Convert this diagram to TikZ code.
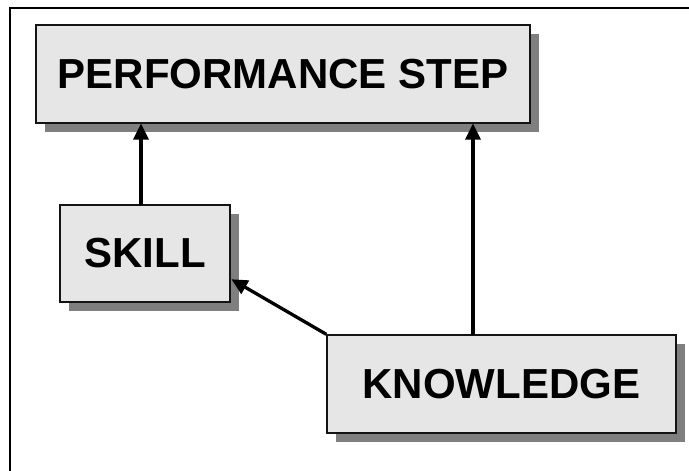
\documentclass[tikz,border=0pt]{standalone}
\usepackage{fontspec}
\setmainfont{Liberation Sans}
\usetikzlibrary{arrows.meta,shadows}
\definecolor{boxfill}{HTML}{E6E6E6}
\definecolor{shadowgray}{HTML}{7F7F7F}
\definecolor{edge}{HTML}{141414}
\tikzset{
  box/.style={draw=edge, line width=1.4pt, fill=boxfill, inner sep=0pt,
    font=\fontsize{42}{48}\selectfont\bfseries,
    drop shadow={shadow xshift=8.5pt, shadow yshift=-8.5pt, fill=shadowgray, opacity=1}},
  link/.style={line width=3.3pt, -{Triangle[length=16pt,width=15pt]}, shorten >=0.5pt},
  frame/.style={line width=2.8pt, black}
}
\begin{document}
\begin{tikzpicture}[x=1pt,y=-1pt]
  \useasboundingbox (0,0) rectangle (689,471);
  \fill[white] (0,0) rectangle (689,471);
  % open frame: left and top edges only
  \coordinate (fb) at (10,471);
  \coordinate (fc) at (10,8);
  \coordinate (fr) at (689,8);
  \draw[frame] (fb) -- (fc) -- (fr);
  % boxes
  \node[box, minimum width=494pt, minimum height=98pt] (perf) at (283,74) {PERFORMANCE STEP};
  \node[box, minimum width=170pt, minimum height=97pt] (skill) at (145,253.5) {SKILL};
  \node[box, minimum width=349pt, minimum height=98pt] (know) at (501.5,384) {KNOWLEDGE};
  % connectors
  \coordinate (skilltop) at (141,205);
  \coordinate (perfleft) at (141,123);
  \coordinate (knowtop) at (473,335);
  \coordinate (perfright) at (473,123);
  \coordinate (skillside) at (231,279);
  \draw[link] (skilltop) -- (perfleft);
  \draw[link] (knowtop) -- (perfright);
  \draw[link] (know.north west) -- (skillside);
\end{tikzpicture}
\end{document}
